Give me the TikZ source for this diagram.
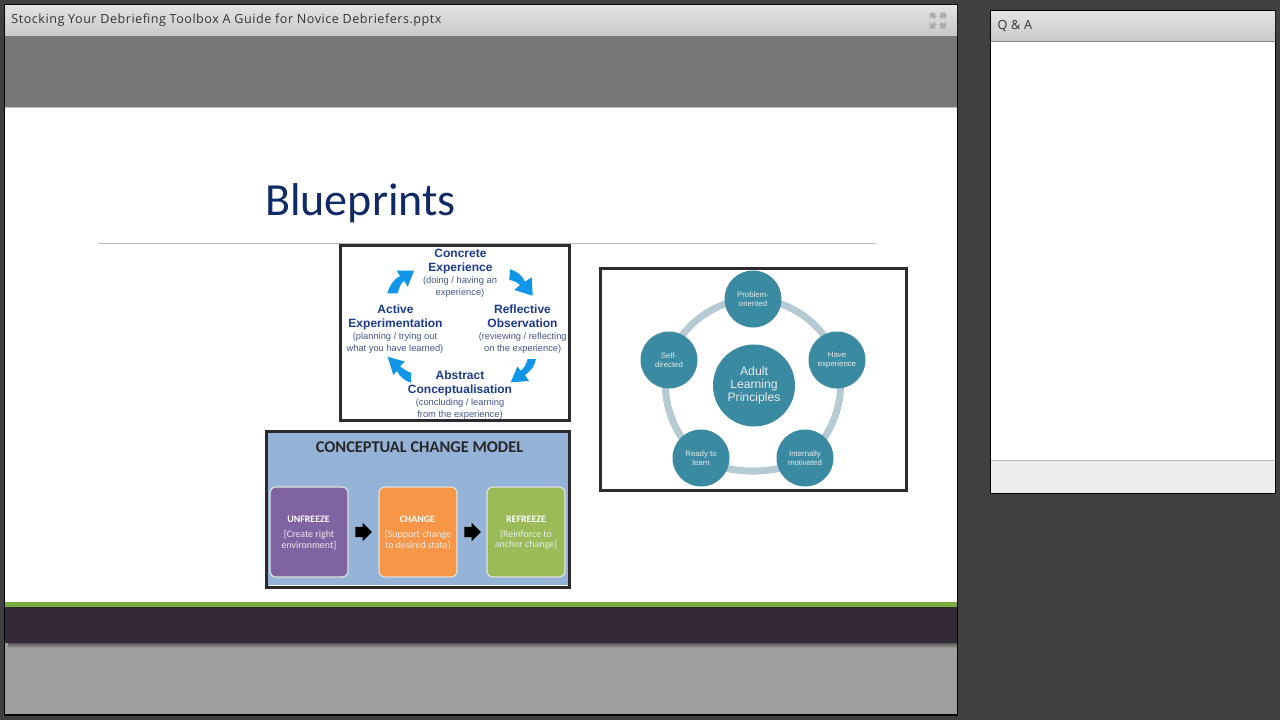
\documentclass[tikz,border=0pt]{standalone}
\usepackage{fontspec}
\setmainfont{Liberation Sans}
\newfontfamily\uifont[LetterSpace=4]{Open Sans}
\newfontfamily\slidefont{Carlito}
\usetikzlibrary{shapes.arrows}
\definecolor{bgdark}{HTML}{404040}
\definecolor{bandgray}{HTML}{767875}
\definecolor{footdark}{HTML}{342A37}
\definecolor{footgreen}{HTML}{7AAE3C}
\definecolor{footgray}{HTML}{9E9E9E}
\definecolor{titleblue}{HTML}{0F2A66}
\definecolor{cyclehead}{HTML}{1C3A8E}
\definecolor{cyclesub}{HTML}{46568C}
\definecolor{cyclearrow}{HTML}{0F96E8}
\definecolor{ccmbg}{HTML}{94B3D7}
\definecolor{ccmpurple}{HTML}{8064A2}
\definecolor{ccmorange}{HTML}{F79646}
\definecolor{ccmgreen}{HTML}{9BBB59}
\definecolor{teal}{HTML}{3A8AA1}
\definecolor{ringcol}{HTML}{B5CAD3}
\definecolor{framecol}{HTML}{2A2A30}
\tikzset{
  x=1pt,y=-1pt,
  plain/.style={inner sep=0pt,outer sep=0pt},
  uitext/.style={plain,anchor=west,text=black!80,font=\uifont\fontsize{12.6}{16}\selectfont},
  headgrad/.style={top color=black!11,bottom color=black!21,draw=none},
  frameline/.style={draw=framecol,line width=3pt},
  cyclehd/.style={plain,align=center,text=cyclehead,font=\bfseries\fontsize{12}{14}\selectfont},
  cyclesb/.style={plain,align=center,text=cyclesub,font=\fontsize{9.3}{11.3}\selectfont},
  blockarrow/.style={fill=cyclearrow,draw=none},
  ccmbox/.style={plain,rounded corners=6pt,draw=white!88!black,line width=1.2pt,minimum width=78pt,minimum height=90pt},
  ccmhead/.style={plain,text=white,font=\slidefont\bfseries\fontsize{9.9}{11}\selectfont},
  ccmsub/.style={plain,align=center,text=white!92!black,font=\slidefont\fontsize{9.9}{10.5}\selectfont},
  ccmarrow/.style={single arrow,fill=black,inner xsep=0pt,inner ysep=5pt,outer sep=0pt,minimum height=16.5pt,single arrow head extend=4pt,single arrow tip angle=90},
  petal/.style={plain,circle,fill=teal,minimum size=57pt,align=center,text=white!92!black,font=\fontsize{7.8}{9}\selectfont},
  ringarc/.style={draw=ringcol,line width=7pt},
  iconarrow/.style={fill=black!32,draw=none}
}
\begin{document}
\begin{tikzpicture}
\useasboundingbox (0,0) rectangle (1280,720);
\fill[bgdark] (0,0) rectangle (1280,720);

% left panel
\fill[black] (4,4) rectangle (958,715.5);
\fill[headgrad] (5,5) rectangle (957,35);
\fill[bandgray] (5,36) rectangle (957,107);
\fill[black!25] (5,107) rectangle (957,108);
\fill[white] (5,108) rectangle (957,602);
\fill[footgreen] (5,602) rectangle (957,607);
\fill[footdark] (5,607) rectangle (957,643);
\fill[footgray] (5,643) rectangle (957,714);
\shade[top color=black!65,bottom color=footgray] (8,643) rectangle (957,648);
\node[uitext] (doctitle) at (11.5,20.5) {Stocking Your Debriefing Toolbox A Guide for Novice Debriefers.pptx};

% expand icon
\fill[iconarrow] (929.5,12.5) -- (936,12.5) -- (934.3,14.3) -- (936.5,16.5) -- (934,19) -- (931.8,16.8) -- (929.5,19) -- cycle;
\fill[iconarrow] (946,12.5) -- (939.5,12.5) -- (941.2,14.3) -- (939,16.5) -- (941.5,19) -- (943.7,16.8) -- (946,19) -- cycle;
\fill[iconarrow] (929.5,28.5) -- (936,28.5) -- (934.3,26.7) -- (936.5,24.5) -- (934,22) -- (931.8,24.2) -- (929.5,22) -- cycle;
\fill[iconarrow] (946,28.5) -- (939.5,28.5) -- (941.2,26.7) -- (939,24.5) -- (941.5,22) -- (943.7,24.2) -- (946,22) -- cycle;

% Q&A panel
\fill[black] (990,10) rectangle (1276,494);
\fill[headgrad] (991,11) rectangle (1275,41);
\fill[black!45] (991,41) rectangle (1275,42);
\fill[white] (991,42) rectangle (1275,460);
\fill[black!27] (991,460) rectangle (1275,461);
\fill[black!7] (991,461) rectangle (1275,493);
\node[uitext] (qa) at (997.5,26) {Q \& A};

% title
\node[plain,text=titleblue,font=\slidefont\fontsize{46}{50}\selectfont] (slidetitle) at (360.5,203) {Blueprints};
\draw[black!28,line width=1pt] (98,243.5) -- (876,243.5);

% Kolb cycle
\fill[white] (340,245) rectangle (570,421);
\draw[frameline] (340.5,245.5) rectangle (569.5,420.5);
\node[cyclehd] (ceh) at (460.5,262) {Concrete\\Experience};
\node[cyclesb] (ces) at (460,287) {(doing / having an\\experience)};
\node[cyclehd] (roh) at (522.5,316.5) {Reflective\\Observation};
\node[cyclesb] (ros) at (522.7,343) {(reviewing / reflecting\\on the experience)};
\node[cyclehd] (aeh) at (395.5,317.5) {Active\\Experimentation};
\node[cyclesb] (aes) at (395,343) {(planning / trying out\\what you have learned)};
\node[cyclehd] (ach) at (460,383.5) {Abstract\\Conceptualisation};
\node[cyclesb] (acs) at (460,409) {(concluding / learning\\from the experience)};
\path[blockarrow] (387.3,293.3) .. controls (390,285) and (394,279) .. (400,276) -- (396.7,270.7) -- (414,270.7) -- (407.7,286.7) -- (404,280.7) .. controls (401,283) and (399,288) .. (397.7,293.3) -- cycle;
\path[blockarrow] (510,269.3) .. controls (516,271) and (522,275) .. (525,281.7) -- (531.7,277.3) -- (532.7,295.7) -- (514.3,290) -- (520,285) .. controls (517,282) and (513,280.5) .. (509.3,280) -- cycle;
\path[blockarrow] (536,359) .. controls (535,365) and (531,371) .. (525,375) -- (529,381) -- (510.7,382.3) -- (517.3,366.7) -- (521,370.7) .. controls (524,368) and (526.5,364) .. (527.7,359) -- cycle;
\path[blockarrow] (387.7,356.7) -- (405,361.7) -- (400,366) .. controls (403,369) and (407,371.5) .. (411,372.7) -- (411,382.7) .. controls (405,381) and (400,377) .. (397,371) -- (393.3,375) -- cycle;

% conceptual change model
\fill[ccmbg] (267,432) rectangle (569,586);
\draw[white,line width=1pt] (268.5,585.8) -- (568.5,585.8) -- (568.5,432.5);
\draw[frameline] (266.5,431.5) rectangle (569.5,587);
\node[plain,text=black!85,font=\slidefont\bfseries\fontsize{16.4}{19}\selectfont] (ccmtitle) at (419.5,447.5) {CONCEPTUAL CHANGE MODEL};
\node[ccmbox,fill=ccmpurple] (unfreeze) at (309,532) {};
\node[ccmbox,fill=ccmorange] (change) at (418,532) {};
\node[ccmbox,fill=ccmgreen] (refreeze) at (526,532) {};
\node[ccmhead] (unfh) at (308.5,519) {UNFREEZE};
\node[ccmsub] (unfs) at (309,540) {[Create right\\environment]};
\node[ccmhead] (chah) at (417.5,519) {CHANGE};
\node[ccmsub] (chas) at (418,540) {[Support change\\to desired state]};
\node[ccmhead] (refh) at (526,519) {REFREEZE};
\node[ccmsub] (refs) at (526,540) {[Reinforce to\\anchor change]};
\node[ccmarrow] (arrowone) at (361,532) {};
\node[ccmarrow] (arrowtwo) at (470,532) {};

% adult learning principles
\fill[white] (600,268) rectangle (907,491);
\draw[frameline] (600.5,268.5) rectangle (906.5,490.5);
\coordinate (pa) at (753,299);
\coordinate (pb) at (837,360);
\coordinate (pc) at (805,458);
\coordinate (pd) at (701,458);
\coordinate (pe) at (669,360);
\draw[ringarc] (pa) to[bend left=36,looseness=.9] (pb);
\draw[ringarc] (pb) to[bend left=36,looseness=.88] (pc);
\draw[ringarc] (pc) to[bend left=36,looseness=.73] (pd);
\draw[ringarc] (pd) to[bend left=36,looseness=.88] (pe);
\draw[ringarc] (pe) to[bend left=36,looseness=.9] (pa);
\node[petal] (prob) at (pa) {Problem-\\oriented};
\node[petal] (have) at (pb) {Have\\experience};
\node[petal] (inte) at (pc) {Internally\\motivated};
\node[petal] (read) at (pd) {Ready to\\learn};
\node[petal] (self) at (pe) {Self-\\directed};
\node[plain,circle,fill=teal,minimum size=82pt,align=center,text=white!92!black,font=\fontsize{12.2}{13}\selectfont] (adult) at (754,385.5) {Adult\\Learning\\Principles};
\end{tikzpicture}
\end{document}
